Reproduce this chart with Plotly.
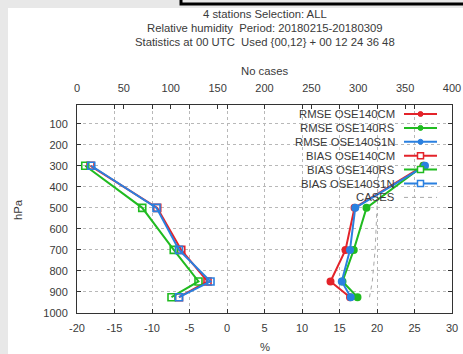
import plotly.graph_objects as go

# ---- data ----
levels = [300, 500, 700, 850, 925]
rmse_cm = [26.2, 17.0, 15.8, 13.8, 16.4]
rmse_rs = [26.2, 18.6, 16.9, 15.4, 17.4]
rmse_s1n = [26.4, 17.1, 16.4, 15.3, 16.5]
bias_cm = [-18.2, -9.3, -6.1, -2.6, -6.4]
bias_rs = [-18.9, -11.3, -7.1, -3.8, -7.4]
bias_s1n = [-18.1, -9.4, -6.4, -2.2, -6.4]
cases = [322, 320, 318, 315, 312]

bottom_ticks = [-20, -15, -10, -5, 0, 5, 10, 15, 20, 25, 30]
bottom_labels = ["-20", "-15", "-10", "-5", "0", "5", "10", "15", "20", "25", "30"]
top_ticks = [0, 50, 100, 150, 200, 250, 300, 350, 400]
y_ticks = [100, 200, 300, 400, 500, 600, 700, 800, 900, 1000]

RED = "#e3232a"
GREEN = "#20bb20"
BLUE = "#2a80e0"
GRAYL = "#a8a8a8"
TXT = "#3a3a3a"
FONT = "Liberation Sans"

W, H = 463, 354
L, R, T, B = 77, 11, 105, 41
PW, PH = W - L - R, H - T - B


def px(x):
    return (x - L) / PW


def py(y):
    return (H - B - y) / PH


fig = go.Figure()

series = [
    ("RMSE OSE140CM", rmse_cm, RED, "circle"),
    ("RMSE OSE140RS", rmse_rs, GREEN, "circle"),
    ("RMSE OSE140S1N", rmse_s1n, BLUE, "circle"),
    ("BIAS OSE140CM", bias_cm, RED, "square-open"),
    ("BIAS OSE140RS", bias_rs, GREEN, "square-open"),
    ("BIAS OSE140S1N", bias_s1n, BLUE, "square-open"),
]
for name, vals, col, sym in series:
    fig.add_trace(go.Scatter(
        x=vals, y=levels, mode="lines+markers", name=name,
        line=dict(color=col, width=2),
        marker=dict(symbol=sym, size=6 if sym == "circle" else 7, color=col,
                    line=dict(width=2 if sym == "circle" else 1.6, color=col)),
        showlegend=False,
    ))

fig.add_trace(go.Scatter(
    x=cases, y=levels, mode="lines", name="CASES", xaxis="x2",
    line=dict(color=GRAYL, width=1, dash="4px,4px"), showlegend=False,
))

axis_common = dict(
    showline=True, linecolor="#333333", linewidth=1,
    ticks="inside", ticklen=4, tickcolor="#333333",
    tickfont=dict(family=FONT, size=11, color=TXT),
    zeroline=False,
)

fig.update_layout(
    width=W, height=H,
    margin=dict(l=L, r=R, t=T, b=B, autoexpand=False),
    paper_bgcolor="#e8e8e8",
    plot_bgcolor="white",
    showlegend=False,
    font=dict(family=FONT, size=11, color=TXT),
    xaxis=dict(range=[-20, 30], tickvals=bottom_ticks, ticktext=bottom_labels,
               mirror="ticks",
               showgrid=True, gridcolor="#b8b8b8", griddash="dot", gridwidth=1,
               ticklabelstandoff=5, **axis_common),
    xaxis2=dict(range=[0, 400], tickvals=top_ticks, overlaying="x", side="top",
                showgrid=False, ticklabelstandoff=8, **axis_common),
    yaxis=dict(range=[1000, 11], tickvals=y_ticks, mirror="ticks",
               showgrid=True, gridcolor="#b8b8b8", griddash="dot", gridwidth=1,
               ticklabelstandoff=6, **axis_common),
)

shapes = []
# white page area
shapes.append(dict(type="rect", xref="paper", yref="paper", layer="below",
                   x0=px(8), x1=px(470), y0=py(360), y1=py(8),
                   fillcolor="white", line=dict(width=0)))
# black frame at top right
shapes.append(dict(type="rect", xref="paper", yref="paper",
                   x0=px(181), x1=px(475), y0=py(4), y1=py(-10),
                   fillcolor="#e8e8e8", line=dict(color="black", width=3)))

# custom legend (text left, sample right)
leg_names = [s[0] for s in series] + ["CASES"]
leg_cols = [s[2] for s in series] + [GRAYL]
annotations = []
for i, (nm, col) in enumerate(zip(leg_names, leg_cols)):
    yy = 114 + i * 13.9
    annotations.append(dict(text=nm, xref="paper", yref="paper", x=px(397), y=py(yy),
                            xanchor="right", yanchor="middle", showarrow=False,
                            font=dict(family=FONT, size=11.3, color=TXT)))
    if i < 6:
        shapes.append(dict(type="line", xref="paper", yref="paper",
                           x0=px(404), x1=px(437), y0=py(yy), y1=py(yy),
                           line=dict(color=col, width=2)))
        if i < 3:
            shapes.append(dict(type="circle", xref="paper", yref="paper",
                               x0=px(418), x1=px(423), y0=py(yy + 2.5), y1=py(yy - 2.5),
                               fillcolor=col, line=dict(color=col, width=1)))
        else:
            shapes.append(dict(type="rect", xref="paper", yref="paper",
                               x0=px(417.5), x1=px(423.5), y0=py(yy + 3), y1=py(yy - 3),
                               fillcolor="white", line=dict(color=col, width=1.5)))
    else:
        shapes.append(dict(type="line", xref="paper", yref="paper",
                           x0=px(404), x1=px(437), y0=py(yy), y1=py(yy),
                           line=dict(color=col, width=1, dash="4px,4px")))

cx = px(264.5)
for txt, yy in [("4 stations Selection: ALL", 14),
                ("Relative humidity  Period: 20180215-20180309", 28),
                ("Statistics at 00 UTC  Used {00,12} + 00 12 24 36 48", 42),
                ("No cases", 71),
                ("%", 347)]:
    annotations.append(dict(text=txt, xref="paper", yref="paper", x=cx, y=py(yy),
                            xanchor="center", yanchor="middle", showarrow=False,
                            font=dict(family=FONT, size=11.3, color=TXT)))
annotations.append(dict(text="hPa", xref="paper", yref="paper", x=px(18), y=py(210),
                        xanchor="center", yanchor="middle", showarrow=False, textangle=-90,
                        font=dict(family=FONT, size=11.3, color=TXT)))

fig.update_layout(shapes=shapes, annotations=annotations)
fig.write_html("out.html")
